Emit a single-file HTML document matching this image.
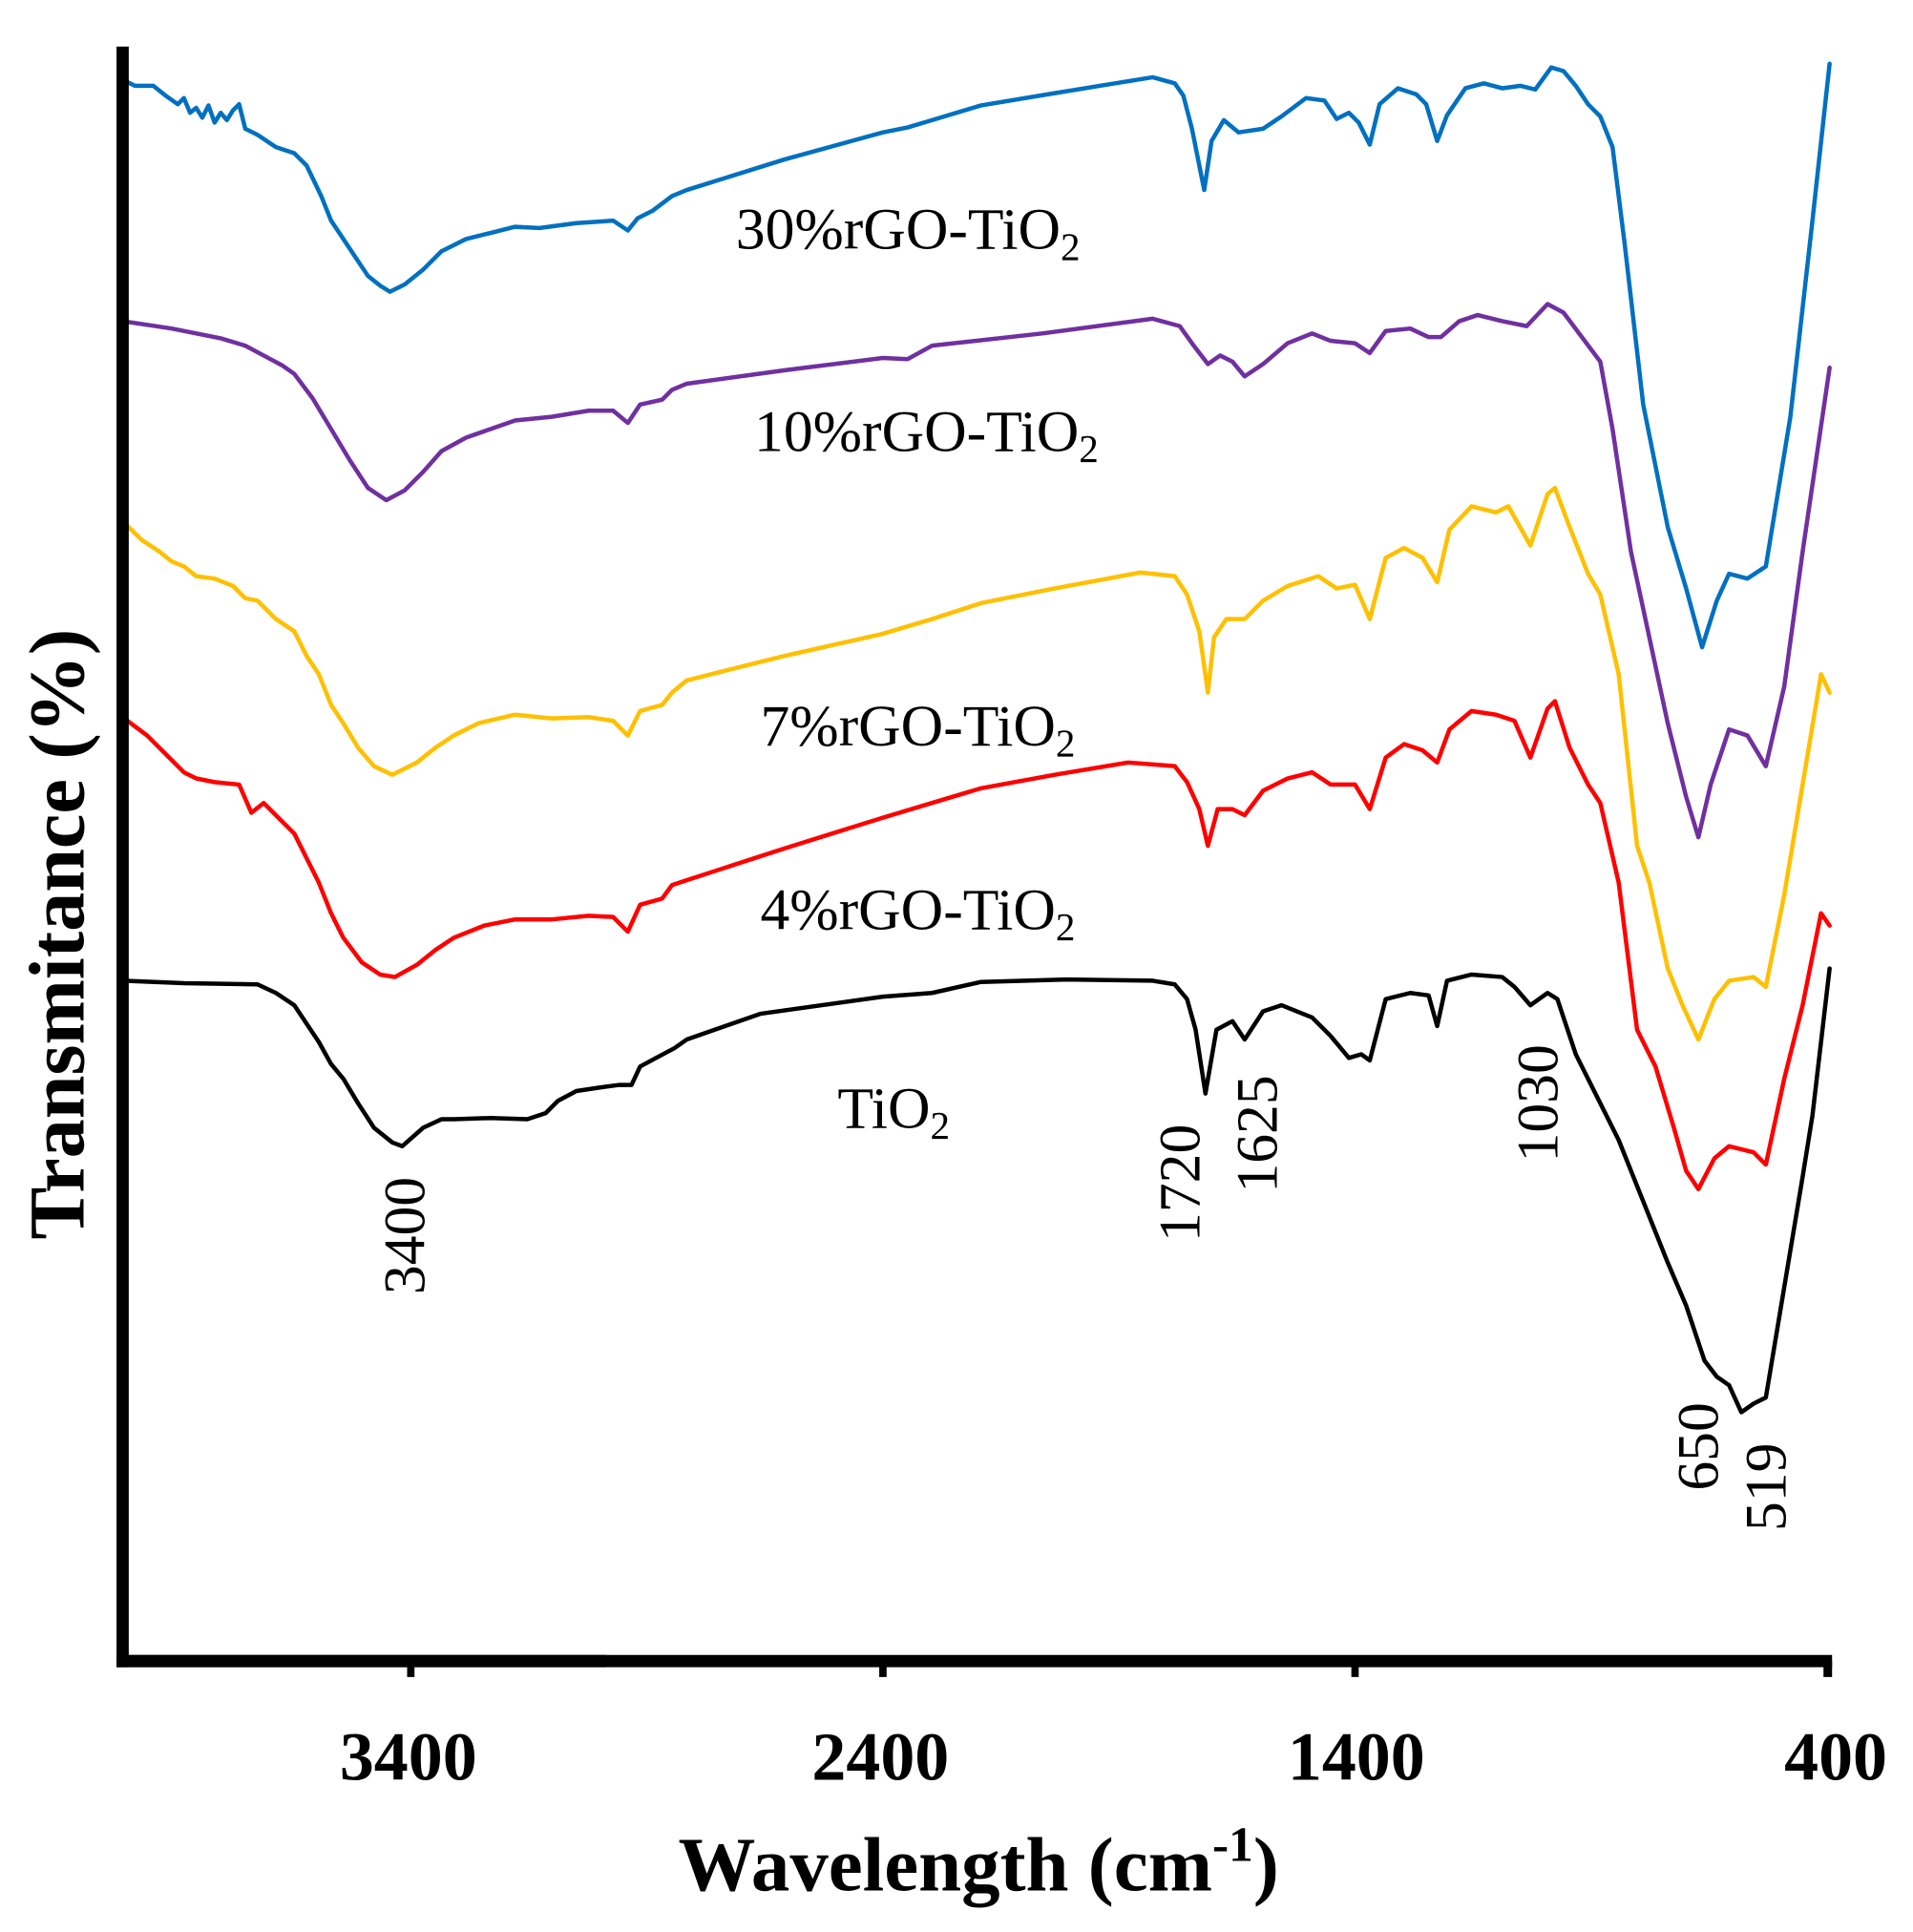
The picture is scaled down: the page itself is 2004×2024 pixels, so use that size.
<!DOCTYPE html>
<html><head><meta charset="utf-8"><style>
html,body{margin:0;padding:0;background:#fff;}
svg{display:block;}
text{font-family:"Liberation Serif",serif;}
</style></head><body>
<svg width="2004" height="2024" viewBox="0 0 1560 1576" preserveAspectRatio="none" xmlns="http://www.w3.org/2000/svg">
<g fill="none" stroke-width="3.5" stroke-linejoin="round" stroke-linecap="round">
<polyline stroke="#0070c0" points="100,65 110,70 125,70 135,78 145,85 150,80 155,92 160,88 165,96 170,86 175,100 180,92 185,98 190,90 195,85 200,105 210,110 225,120 240,125 250,135 262,160 270,180 280,195 290,210 300,225 310,233 318,238 330,232 345,220 360,205 380,195 400,190 420,185 440,186 470,182 500,180 512,188 520,178 532,172 548,160 560,155 640,130 720,108 740,104 760,98 800,86 860,76 940,63 958,68 965,78 972,105 982,155 988,115 998,98 1010,108 1030,105 1045,95 1065,80 1080,82 1090,97 1100,92 1108,100 1117,118 1125,85 1140,72 1155,77 1163,85 1172,115 1180,94 1195,72 1210,68 1225,72 1240,70 1252,73 1265,55 1275,58 1285,70 1295,85 1305,95 1315,120 1325,200 1340,330 1360,430 1375,480 1388,528 1400,490 1410,468 1425,472 1440,462 1460,340 1478,180 1492,52"/>
<polyline stroke="#7030a0" points="100,262 120,265 140,268 160,272 180,276 200,282 215,290 230,298 240,305 255,325 270,350 285,375 300,398 315,408 330,400 345,385 360,368 380,357 400,350 420,343 450,340 480,335 500,335 512,345 522,330 540,326 548,318 560,313 640,302 720,292 740,293 760,282 850,272 940,260 962,266 972,280 985,297 995,290 1005,295 1015,307 1030,297 1050,280 1070,272 1085,278 1105,280 1117,288 1130,270 1150,268 1165,275 1175,275 1190,262 1205,257 1225,262 1245,266 1262,248 1275,255 1290,275 1305,295 1315,350 1330,450 1345,520 1360,590 1375,650 1385,683 1395,640 1410,595 1425,600 1440,625 1455,560 1470,450 1492,300"/>
<polyline stroke="#ffc000" points="100,425 115,440 130,450 140,458 150,462 160,470 175,472 190,478 200,488 210,490 225,505 240,515 250,535 260,550 270,575 280,590 292,610 305,625 320,632 340,622 355,610 370,600 390,590 420,583 450,586 480,585 500,588 512,600 522,580 540,575 548,565 560,555 640,535 720,517 760,505 800,492 860,480 930,467 958,470 968,485 978,515 985,565 990,520 1000,505 1015,505 1030,490 1050,478 1075,470 1090,480 1105,477 1117,505 1130,455 1145,447 1160,455 1172,475 1182,432 1200,413 1220,418 1230,413 1248,445 1262,403 1268,398 1280,430 1295,468 1305,485 1320,550 1335,690 1345,720 1360,790 1372,820 1385,848 1398,815 1410,800 1430,797 1440,805 1455,730 1470,640 1485,550 1492,565"/>
<polyline stroke="#ff0000" points="100,585 120,600 140,620 150,630 160,635 175,638 195,640 205,663 215,655 225,665 240,680 250,700 260,720 270,745 280,765 295,785 310,795 322,797 340,787 355,775 370,765 395,755 420,750 450,750 480,747 500,748 512,760 522,738 540,733 548,722 560,718 640,692 720,667 760,655 800,643 860,632 920,622 958,625 968,638 978,660 985,690 993,660 1005,660 1015,665 1030,645 1050,635 1070,630 1085,640 1105,640 1117,660 1130,618 1145,607 1160,612 1172,622 1182,595 1200,580 1220,583 1235,588 1248,618 1262,578 1268,572 1280,610 1295,640 1305,655 1320,720 1335,840 1350,870 1365,920 1375,955 1385,970 1398,945 1410,935 1430,940 1440,950 1455,880 1470,820 1485,745 1492,755"/>
<polyline stroke="#000000" points="100,800 150,802 210,803 225,810 240,820 250,835 260,850 270,868 280,880 292,900 305,920 320,932 328,935 345,920 360,913 370,913 400,912 430,913 445,908 455,898 470,890 490,887 505,885 515,885 522,870 535,863 550,855 560,848 620,827 720,813 760,810 800,801 870,799 940,800 958,803 968,815 975,840 983,892 992,840 1005,833 1015,848 1030,825 1045,820 1070,830 1085,845 1100,863 1110,860 1117,865 1130,815 1150,810 1165,812 1172,837 1180,800 1200,795 1225,797 1235,805 1248,820 1262,810 1270,815 1285,860 1300,890 1320,930 1340,980 1360,1030 1375,1065 1390,1110 1400,1123 1410,1130 1420,1152 1430,1145 1440,1140 1455,1050 1470,960 1478,910 1492,790"/>
</g>
<g fill="#000">
<rect x="95" y="38" width="10" height="1322"/>
<rect x="95" y="1350" width="399" height="10"/>
<rect x="95" y="1350" width="1399" height="10"/>
<rect x="332" y="1355" width="6" height="13"/>
<rect x="717" y="1355" width="6" height="13"/>
<rect x="1102" y="1355" width="6" height="13"/>
<rect x="1487" y="1355" width="7" height="13"/>
</g>
<g font-size="56" font-weight="bold" text-anchor="middle">
<text x="333" y="1452">3400</text>
<text x="718" y="1452">2400</text>
<text x="1106" y="1452">1400</text>
<text x="1497" y="1452">400</text>
</g>
<text x="798" y="1542" font-size="63" font-weight="bold" text-anchor="middle">Wavelength (cm<tspan font-size="40" dy="-24">-1</tspan><tspan dy="24">)</tspan></text>
<text transform="translate(68,762) rotate(-90)" font-size="64" font-weight="bold" text-anchor="middle">Transmitance  (%)</text>
<g font-size="48">
<text x="600" y="203">30%rGO-TiO<tspan font-size="32" dy="9">2</tspan></text>
<text x="615" y="368">10%rGO-TiO<tspan font-size="32" dy="9">2</tspan></text>
<text x="620" y="608">7%rGO-TiO<tspan font-size="32" dy="9">2</tspan></text>
<text x="620" y="758">4%rGO-TiO<tspan font-size="32" dy="9">2</tspan></text>
<text x="683" y="920">TiO<tspan font-size="32" dy="9">2</tspan></text>
</g>
<g font-size="48" text-anchor="middle">
<text transform="translate(346,1008) rotate(-90)">3400</text>
<text transform="translate(978,965) rotate(-90)">1720</text>
<text transform="translate(1041,925) rotate(-90)">1625</text>
<text transform="translate(1270,900) rotate(-90)">1030</text>
<text transform="translate(1401,1180) rotate(-90)">650</text>
<text transform="translate(1456,1213) rotate(-90)">519</text>
</g>
</svg>
</body></html>
